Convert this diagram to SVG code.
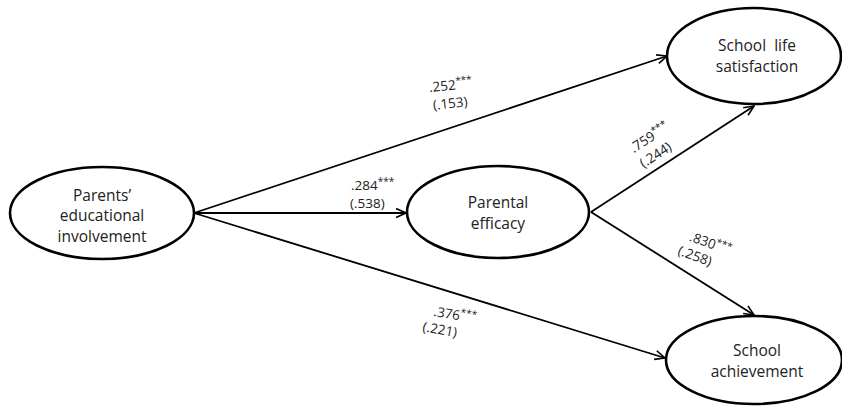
<svg xmlns="http://www.w3.org/2000/svg" width="842" height="406" viewBox="0 0 842 406">
<defs>
<marker id="arr" viewBox="0 0 12 12" refX="11" refY="6" markerWidth="12" markerHeight="12" markerUnits="userSpaceOnUse" orient="auto">
<path d="M1,1.5 L11,6 L1,10.5" fill="none" stroke="#000" stroke-width="1.6"/>
</marker>
<style>
.node{fill:#fff;stroke:#000;stroke-width:2.6}
.nt{font-family:"Open Sans","Noto Sans","Liberation Sans",sans-serif;font-size:15.5px;fill:#222;text-anchor:middle}
.lt{font-family:"Open Sans","Noto Sans","Liberation Sans",sans-serif;font-size:13.5px;fill:#222}
.sup{font-size:10px}
.edge{fill:none;stroke:#000;stroke-width:1.8;marker-end:url(#arr)}
</style>
</defs>
<rect width="842" height="406" fill="#fff"/>
<g id="connectors">
<line class="edge" x1="194" y1="213" x2="667" y2="56"/>
<line class="edge" x1="194" y1="213" x2="406" y2="213"/>
<line class="edge" x1="194" y1="213" x2="665" y2="358"/>
<line class="edge" x1="591" y1="212" x2="754" y2="106"/>
<line class="edge" x1="591" y1="212" x2="754" y2="315"/>
</g>
<g id="labels">
<g transform="rotate(-6 450 95)">
<text class="lt" x="430" y="90">.252<tspan class="sup" dy="-5">***</tspan></text>
<text class="lt" x="432" y="108">(.153)</text>
</g>
<text class="lt" x="351" y="190">.284<tspan class="sup" dy="-5">***</tspan></text>
<text class="lt" x="350" y="208">(.538)</text>
<g transform="rotate(-33 650 145)">
<text class="lt" x="632" y="143">.759<tspan class="sup" dy="-5">***</tspan></text>
<text class="lt" x="632" y="161">(.244)</text>
</g>
<g transform="rotate(20 700 250)">
<text class="lt" x="686" y="245">.830<tspan class="sup" dy="-5">***</tspan></text>
<text class="lt" x="680" y="262">(.258)</text>
</g>
<g transform="rotate(10 445 322)">
<text class="lt" x="432" y="318">.376<tspan class="sup" dy="-5">***</tspan></text>
<text class="lt" x="424" y="335">(.221)</text>
</g>
</g>
<g id="n_parents">
<ellipse class="node" cx="102" cy="213" rx="92" ry="46"/>
<text class="nt" x="102" y="201">Parents’</text>
<text class="nt" x="102" y="221">educational</text>
<text class="nt" x="102" y="242">involvement</text>
</g>
<g id="n_efficacy">
<ellipse class="node" cx="498" cy="212" rx="91" ry="46"/>
<text class="nt" x="498" y="208">Parental</text>
<text class="nt" x="498" y="229">efficacy</text>
</g>
<g id="n_satisfaction">
<ellipse class="node" cx="754" cy="56" rx="87" ry="48"/>
<text class="nt" x="757" y="51" style="white-space:pre">School  life</text>
<text class="nt" x="757" y="72">satisfaction</text>
</g>
<g id="n_achievement">
<ellipse class="node" cx="754" cy="360" rx="88" ry="44"/>
<text class="nt" x="757" y="356">School</text>
<text class="nt" x="757" y="377">achievement</text>
</g>
</svg>
